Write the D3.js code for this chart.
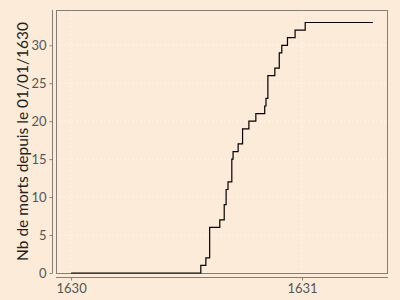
<!DOCTYPE html>
<meta charset="utf-8">
<style>
body { margin: 0; background: #fcebd9; }
svg { display: block; }
.grid line { stroke: #ffffff; stroke-opacity: 0.6; stroke-dasharray: 2,2; }
.axis text { font-family: Lato, sans-serif; font-size: 13px; fill: #555; }
.axis line, .axis path { stroke: #857d76; }
.line { fill: none; stroke: #000; stroke-width: 1.2; }
</style>
<body>
<div id="chart"></div>
<script src="https://d3js.org/d3.v7.min.js"></script>
<script>
// cumulative deaths, one point per date where the count changes
var dates = ["1630-01-01", "1630-07-25", "1630-08-02", "1630-08-08", "1630-08-24",
  "1630-08-31", "1630-09-03", "1630-09-06", "1630-09-12", "1630-09-14", "1630-09-22",
  "1630-09-29", "1630-10-09", "1630-10-20", "1630-11-03", "1630-11-05", "1630-11-08",
  "1630-11-19", "1630-11-26", "1630-11-30", "1630-12-09", "1630-12-21", "1631-01-06",
  "1631-04-23"];
var deaths = [0, 1, 2, 6, 7, 9, 11, 12, 15, 16, 17, 19, 20, 21, 22, 23, 26, 27, 29, 30, 31, 32, 33, 33];
var yTicks = [0, 5, 10, 15, 20, 25, 30];
var xTicks = ["1630-01-01", "1631-01-01"];
var yLabel = "Nb de morts depuis le 01/01/1630";

var parse = d3.timeParse("%Y-%m-%d");
var data = dates.map(function(d, i) { return { date: parse(d), n: deaths[i] }; });

var width = 400, height = 300;
var pLeft = 56, pRight = 388, pTop = 10, pBottom = 273;

var ext = d3.extent(data, function(d) { return d.date; });
var pad = (ext[1] - ext[0]) * 0.05;
var x = d3.scaleTime()
  .domain([new Date(+ext[0] - pad), new Date(+ext[1] + pad)])
  .range([pLeft, pRight]);
var y = d3.scaleLinear()
  .domain([0, d3.max(deaths) * 1.05])
  .range([pBottom, pTop]);

var svg = d3.select("#chart").append("svg")
  .attr("width", width)
  .attr("height", height);

// gridlines
var grid = svg.append("g").attr("class", "grid");
grid.selectAll(".h").data(yTicks).enter().append("line")
  .attr("x1", pLeft).attr("x2", pRight)
  .attr("y1", function(d) { return y(d); })
  .attr("y2", function(d) { return y(d); });
grid.selectAll(".v").data(xTicks).enter().append("line")
  .attr("y1", pTop).attr("y2", pBottom)
  .attr("x1", function(d) { return x(parse(d)); })
  .attr("x2", function(d) { return x(parse(d)); });

// panel border
svg.append("rect")
  .attr("x", pLeft + 0.5).attr("y", pTop + 0.5)
  .attr("width", pRight - pLeft - 1).attr("height", pBottom - pTop)
  .attr("fill", "none")
  .attr("stroke", "#857d76");

svg.append("path")
  .datum(data)
  .attr("class", "line")
  .attr("d", d3.line()
    .x(function(d) { return x(d.date); })
    .y(function(d) { return y(d.n); })
    .curve(d3.curveStepAfter));

// axes, offset from the panel
svg.append("g")
  .attr("class", "axis")
  .attr("transform", "translate(52.5,0)")
  .call(d3.axisLeft(y).tickValues(yTicks).tickSize(3).tickPadding(3).tickSizeOuter(0))
  .call(function(g) { g.select(".domain").attr("d", "M0," + pTop + "V" + pBottom); });

svg.append("g")
  .attr("class", "axis")
  .attr("transform", "translate(0,277.5)")
  .call(d3.axisBottom(x).tickValues(xTicks.map(parse)).tickFormat(d3.timeFormat("%Y"))
    .tickSize(3).tickPadding(3).tickSizeOuter(0))
  .call(function(g) { g.select(".domain").attr("d", "M" + pLeft + ",0H" + pRight); });

svg.append("text")
  .attr("transform", "translate(27.5," + ((pTop + pBottom) / 2) + ") rotate(-90)")
  .attr("text-anchor", "middle")
  .style("font-family", "Lato, sans-serif")
  .style("font-size", "15.5px")
  .style("fill", "#222")
  .text(yLabel);
</script>
</body>
